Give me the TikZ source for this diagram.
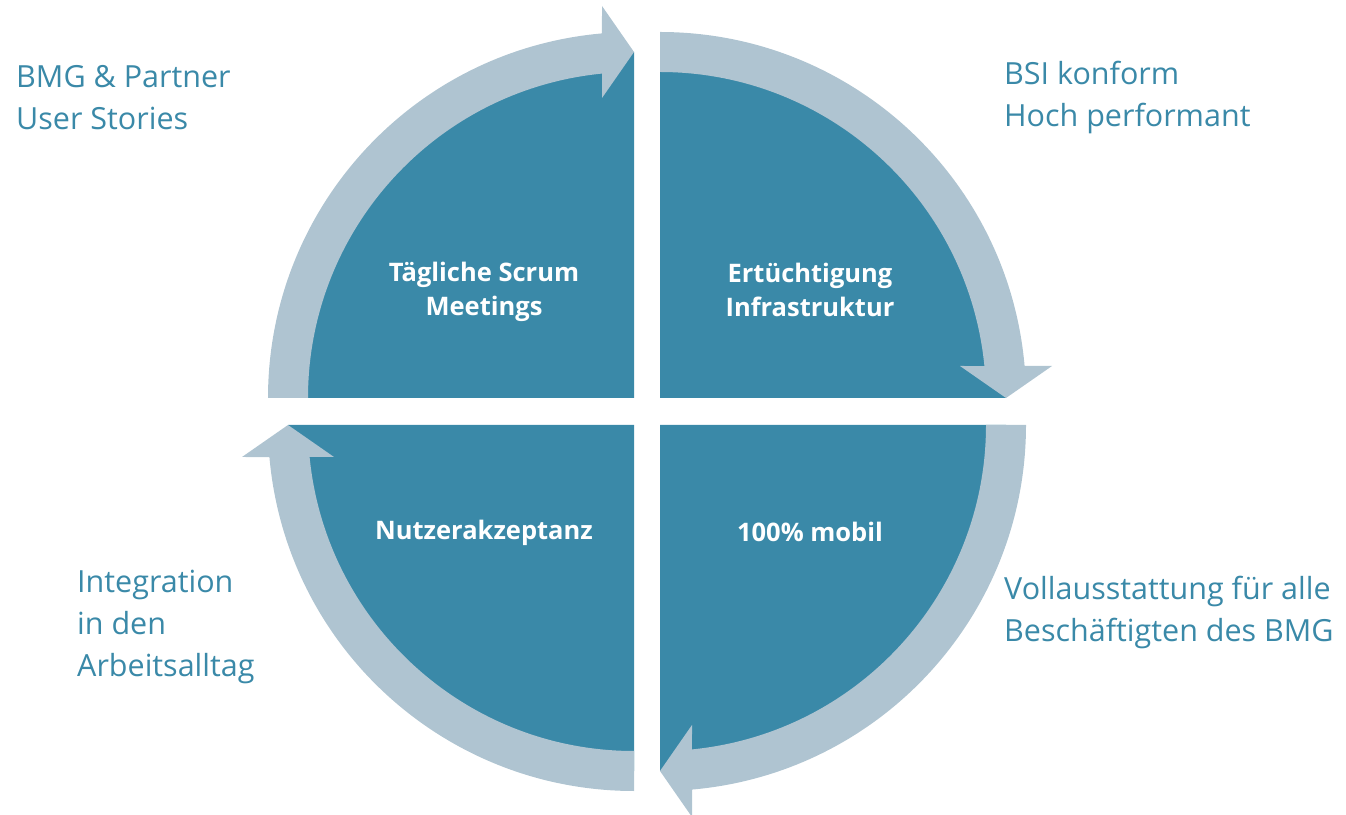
\documentclass[tikz,border=0pt]{standalone}
\usepackage{fontspec}
\setmainfont{Open Sans}
\usetikzlibrary{positioning}

\definecolor{bmgteal}{RGB}{58,137,168}
\definecolor{bmgring}{RGB}{175,196,209}

\tikzset{
  sector/.style={fill=bmgteal},
  ring/.style={fill=bmgring},
  inlabel/.style={text=white, font=\bfseries\fontsize{25.5}{34}\selectfont, align=center, inner sep=0pt},
  outlabel/.style={text=bmgteal, font=\fontsize{30.5}{42}\selectfont, align=left, anchor=west, inner sep=0pt}
}

\begin{document}
\begin{tikzpicture}[x=1pt,y=1pt]
\useasboundingbox (0,0) rectangle (1346,814);

% Ecken der vier Viertel
\coordinate (tl) at (634,416);
\coordinate (tr) at (660,416);
\coordinate (br) at (660,389);
\coordinate (bl) at (634,389);

% die vier Viertelkreise
\fill[sector] (tl) -- ++(180:346) arc[start angle=180, end angle=90, radius=346] -- cycle;
\fill[sector] (tr) -- ++(90:346) arc[start angle=90, end angle=0, radius=346] -- cycle;
\fill[sector] (br) -- ++(0:346) arc[start angle=0, end angle=-90, radius=346] -- cycle;
\fill[sector] (bl) -- ++(-90:346) arc[start angle=-90, end angle=-180, radius=346] -- cycle;

% Pfeile am Rand (im Uhrzeigersinn)
\fill[ring, shift={(tl)}] (180:366) arc[start angle=180, end angle=95.02, radius=366]
  -- (-32,392) -- (0,346) -- (-32,300) -- (95.63:326)
  arc[start angle=95.63, end angle=180, radius=326] -- cycle; % oben links
\fill[ring, shift={(tr)}, rotate=-90] (180:366) arc[start angle=180, end angle=95.02, radius=366]
  -- (-32,392) -- (0,346) -- (-32,300) -- (95.63:326)
  arc[start angle=95.63, end angle=180, radius=326] -- cycle; % oben rechts
\fill[ring, shift={(br)}, rotate=-180] (180:366) arc[start angle=180, end angle=95.02, radius=366]
  -- (-32,392) -- (0,346) -- (-32,300) -- (95.63:326)
  arc[start angle=95.63, end angle=180, radius=326] -- cycle; % unten rechts
\fill[ring, shift={(bl)}, rotate=-270] (180:366) arc[start angle=180, end angle=95.02, radius=366]
  -- (-32,392) -- (0,346) -- (-32,300) -- (95.63:326)
  arc[start angle=95.63, end angle=180, radius=326] -- cycle; % unten links

% Texte in den Vierteln
\node[inlabel] (scrum) at (484,522) {Tägliche Scrum\\Meetings};
\node[inlabel] (infra) at (810,524) {Ertüchtigung\\Infrastruktur};
\node[inlabel] (akzeptanz) at (484,281) {Nutzerakzeptanz};
\node[inlabel] (mobil) at (810,282) {100\% mobil};

% Texte aussen
\node[outlabel] (partner) at (16,716) {BMG \& Partner\\User Stories};
\node[outlabel] (bsi) at (1004,716) {BSI konform\\Hoch performant};
\node[outlabel] (ausstattung) at (1004,202) {Vollausstattung für alle\\Beschäftigten des BMG};
\node[outlabel] (integration) at (77,187) {Integration\\in den\\Arbeitsalltag};

\end{tikzpicture}
\end{document}
